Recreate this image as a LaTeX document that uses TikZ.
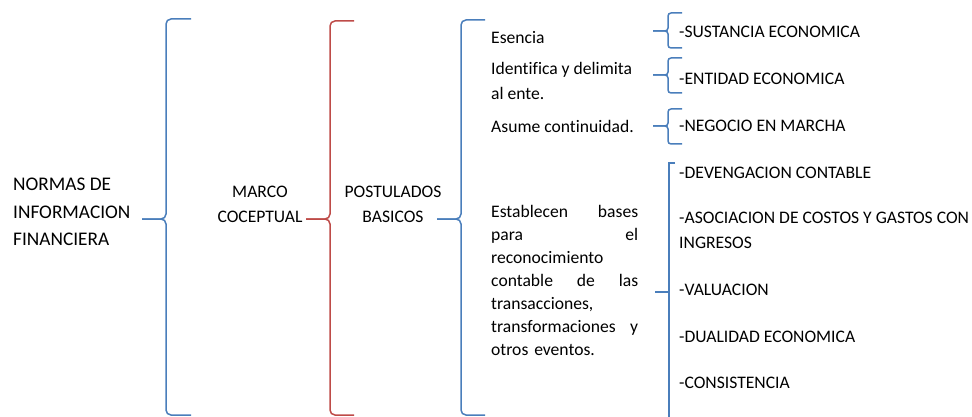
\documentclass[tikz,border=0pt]{standalone}
\usepackage{fontspec}
\setmainfont{Carlito}[Ligatures=NoCommon]

\definecolor{azul}{HTML}{4A7EBB}
\definecolor{roja}{HTML}{BE4B48}

% llave: [style]{stem x}{vertical x}{end x}{top y}{middle y}{bottom y}
\newcommand{\llave}[7][]{%
  \draw[llavestyle,#1] (#4,#5) -- (#3,#5) -- (#3,#6) -- (#2,#6);
  \draw[llavestyle,#1] (#4,#7) -- (#3,#7) -- (#3,#6) -- (#2,#6);
}

\begin{document}
\begin{tikzpicture}[x=1pt,y=-1pt,
    every node/.style={inner sep=0pt},
    llavestyle/.style={line width=1.5pt, rounded corners=5pt},
    titulo/.style={font=\fontsize{19.3}{27.7}\selectfont, align=left, anchor=west},
    texto/.style={font=\fontsize{17.6}{25}\selectfont, align=left, anchor=west}]
  \useasboundingbox (0,0) rectangle (972,417);

  % first level
  \node[titulo] (nif) at (13,212) {NORMAS DE\\INFORMACION\\FINANCIERA};
  \node[texto, align=center, anchor=center] (marco) at (260,204.5) {MARCO\\COCEPTUAL};
  \node[texto, align=center, anchor=center] (postulados) at (393,204.5) {POSTULADOS\\BASICOS};

  % big braces
  \llave[azul]{142}{166}{191}{19}{219}{415}
  \llave[roja]{306}{330}{354}{21}{219}{415}
  \llave[azul]{437}{461}{485}{20}{219}{415}

  % postulados
  \node[texto] (esencia) at (491,38) {Esencia};
  \node[texto] (identifica) at (491,80.5) {Identifica y delimita\\al ente.};
  \node[texto] (asume) at (491,126) {Asume continuidad.};
  \node[texto, text width=147pt, font=\fontsize{17.6}{23}\selectfont] (bases) at (491,280)
    {Establecen\hfill bases\\para\hfill el\\reconocimiento\\contable\hfill de\hfill las\\transacciones,\\transformaciones\hfill y\\otros eventos.};

  % small braces
  \llave[azul, rounded corners=3pt]{653}{668}{682}{13}{31}{48}
  \llave[azul, rounded corners=3pt]{653}{668}{682}{58}{75}{93}
  \llave[azul, rounded corners=3pt]{653}{668}{682}{109}{126}{144}

  \node[texto] (sustancia) at (679,32) {-SUSTANCIA ECONOMICA};
  \node[texto] (entidad) at (679,79) {-ENTIDAD ECONOMICA};
  \node[texto] (negocio) at (679,126) {-NEGOCIO EN MARCHA};

  % square bracket
  \draw[azul, line width=1.5pt] (675,163) -- (669,163) -- (669,417);
  \draw[azul, line width=1.5pt] (655,292) -- (669,292);

  \node[texto] (devengacion) at (679,173) {-DEVENGACION CONTABLE};
  \node[texto] (asociacion) at (679,230.5) {-ASOCIACION DE COSTOS Y GASTOS CON\\INGRESOS};
  \node[texto] (valuacion) at (679,290) {-VALUACION};
  \node[texto] (dualidad) at (679,337) {-DUALIDAD ECONOMICA};
  \node[texto] (consistencia) at (679,383) {-CONSISTENCIA};
\end{tikzpicture}
\end{document}
